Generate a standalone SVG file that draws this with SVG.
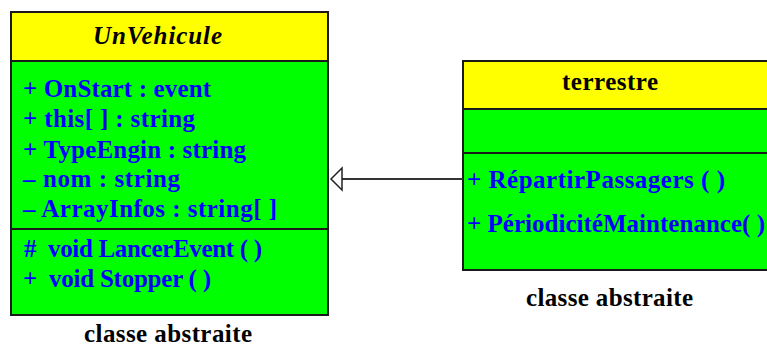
<svg xmlns="http://www.w3.org/2000/svg" width="767" height="347" viewBox="0 0 767 347">
<style>
.box{stroke:#1a1a1a;stroke-width:2}
.hdr{fill:#ffff00}
.body{fill:#00ff00}
.sep{stroke:#1a1a1a;stroke-width:2}
text{font-family:"Liberation Serif","Times New Roman",serif;font-weight:bold;font-size:25px}
.m{fill:#0000ff}
.t{fill:#000}
.it{font-style:italic}
.cap{fill:#000}
</style>
<rect width="767" height="347" fill="#fff"/>
<g id="UnVehicule">
<rect class="box body" x="11" y="12" width="317" height="303"/>
<rect class="box hdr" x="11" y="12" width="317" height="49"/>
<line class="sep" x1="11" y1="229" x2="328" y2="229"/>
<text class="t it" x="93" y="44" textLength="129">UnVehicule</text>
<text class="m" x="23" y="97" textLength="188">+ OnStart : event</text>
<text class="m" x="23" y="127" textLength="172">+ this[ ] : string</text>
<text class="m" x="23" y="158" textLength="223">+ TypeEngin : string</text>
<text class="m" x="23" y="187" textLength="157">– nom : string</text>
<text class="m" x="23" y="217" textLength="254">– ArrayInfos : string[ ]</text>
<text class="m" x="24" y="257" textLength="238" xml:space="preserve">#  void LancerEvent ( )</text>
<text class="m" x="23" y="287" textLength="188" xml:space="preserve">+  void Stopper ( )</text>
<text class="cap" x="84" y="342" textLength="168">classe abstraite</text>
</g>
<g id="terrestre">
<rect class="box body" x="463" y="61" width="320" height="209"/>
<rect class="box hdr" x="463" y="61" width="320" height="48"/>
<line class="sep" x1="463" y1="153" x2="783" y2="153"/>
<text class="t" x="562" y="90" textLength="96">terrestre</text>
<text class="m" x="467" y="188" textLength="258">+ RépartirPassagers ( )</text>
<text class="m" x="467" y="232" textLength="298">+ PériodicitéMaintenance( )</text>
<text class="cap" x="526" y="306" textLength="167">classe abstraite</text>
</g>
<g id="connectors">
<line x1="463" y1="179" x2="342" y2="179" stroke="#333" stroke-width="2"/>
<polygon points="331,179 342,168 342,190" fill="#fff" stroke="#222" stroke-width="1.5"/>
</g>
</svg>
